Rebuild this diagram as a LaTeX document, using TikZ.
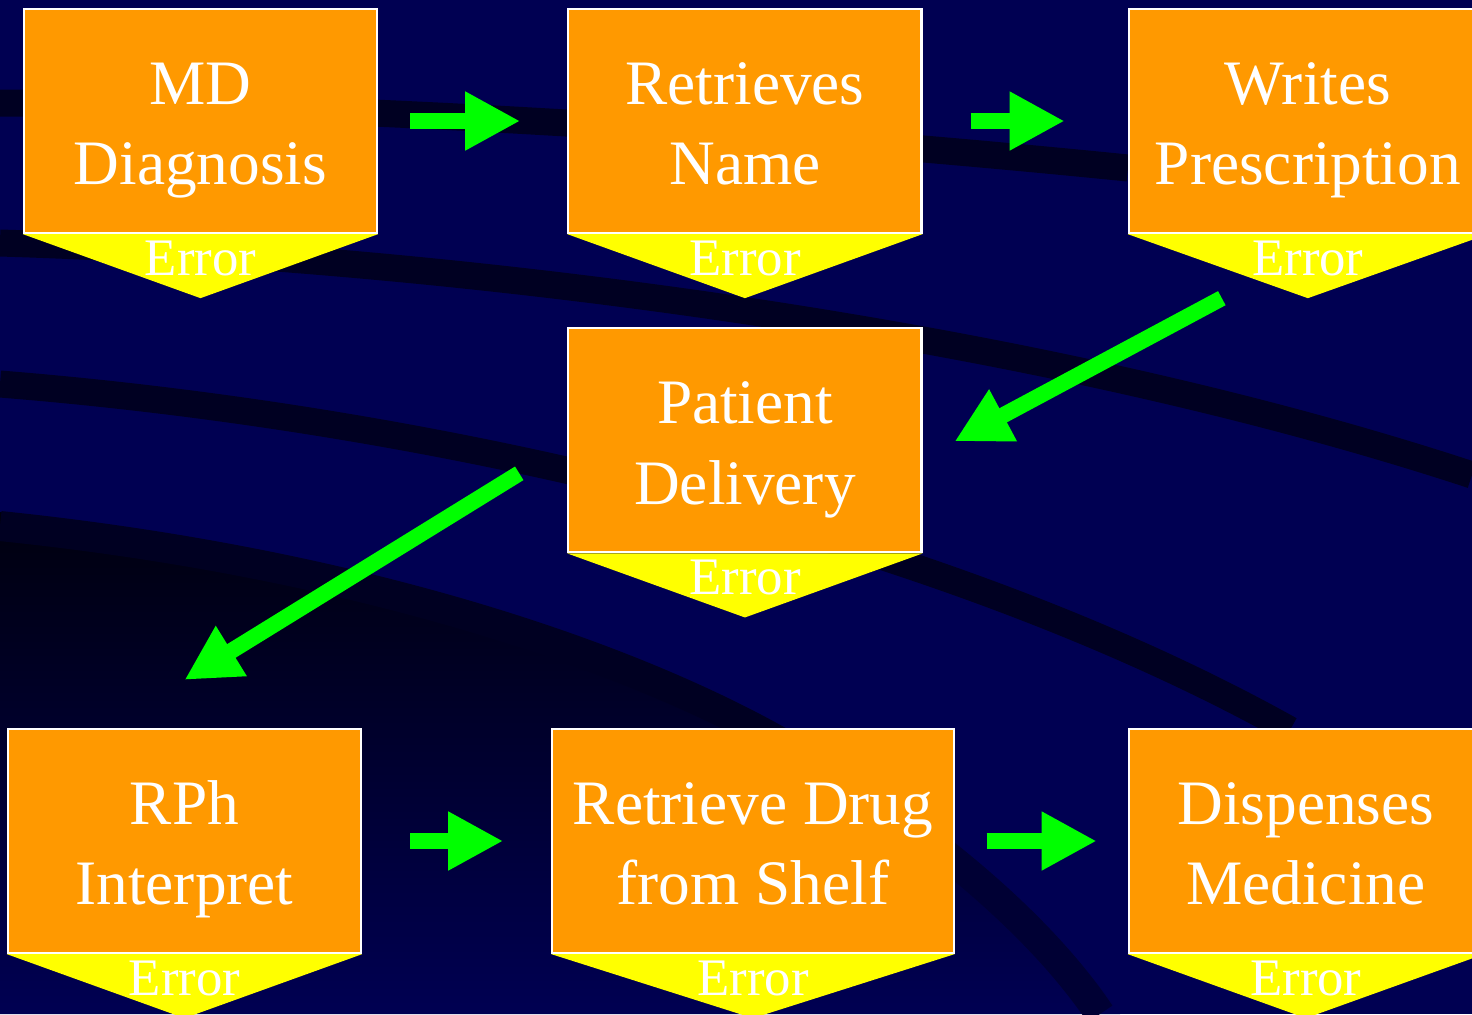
\documentclass[tikz,border=0pt]{standalone}
\usepackage{fontspec}
\setmainfont{Liberation Serif}
\usetikzlibrary{arrows.meta,positioning,calc}

\definecolor{navy}{RGB}{0,0,82}
\definecolor{bgband}{RGB}{0,0,34}
\definecolor{bgstripe}{RGB}{0,0,52}
\definecolor{bgdeep}{RGB}{0,0,14}
\definecolor{boxorange}{RGB}{255,153,0}
\definecolor{erryellow}{RGB}{255,255,0}
\definecolor{flowgreen}{RGB}{0,255,0}

\tikzset{
  stepbox/.style  = {draw=white, line width=0.6pt, fill=boxorange, text=white,
                     minimum width=3.53cm, minimum height=2.24cm, inner sep=0pt,
                     align=center, font=\fontsize{18}{21.9}\selectfont},
  errlabel/.style = {anchor=base, text=white, inner sep=0pt,
                     font=\fontsize{15}{18}\selectfont},
  flow/.style     = {draw=flowgreen, line width=0.16cm,
                     -{Triangle[length=0.55cm, width=0.55cm]}},
  band/.style     = {draw=bgband, line width=0.27cm},
}
\newcommand{\lstrut}{\rule[-0.15cm]{0pt}{0.77cm}}
\newcommand{\twoline}[2]{\lstrut#1\\\lstrut#2}

\begin{document}
\begin{tikzpicture}[x=0.01cm, y=-0.01cm]
\useasboundingbox (0,0) rectangle (1472,1014);

% ---- background with swooshes
\fill[navy] (0,0) rectangle (1472,1014);
\shade[top color=bgdeep, bottom color=navy]
  (0,512) .. controls (350,550) and (620,640) .. (780,730)
  .. controls (900,800) and (1040,900) .. (1120,1014) -- (0,1014) -- cycle;
\draw[band, line width=0.3cm] (0,526) .. controls (350,562) and (620,652) .. (780,742);
\draw[band, draw=bgstripe, line width=0.3cm] (780,742)
  .. controls (900,812) and (1030,910) .. (1100,1014);
\draw[band] (0,103) .. controls (300,105) and (700,125) .. (1128,168);
\draw[band] (0,243) .. controls (400,255) and (1000,320) .. (1472,475);
\draw[band] (0,384) .. controls (450,420) and (950,540) .. (1290,730);

% ---- top row
\node[stepbox] (md) at (200.5,121) {\twoline{MD}{Diagnosis}};
\node[stepbox, right=1.89cm of md] (name) {\twoline{Retrieves}{Name}};
\node[stepbox, right=2.05cm of name, minimum width=3.58cm] (rx)
  {\twoline{Writes}{Prescription}};

% ---- middle
\node[stepbox, below=0.93cm of name] (deliv) {\twoline{Patient}{Delivery}};

% ---- bottom row
\node[stepbox] (rph) at (184.5,841) {\twoline{RPh}{Interpret}};
\node[stepbox, right=1.89cm of rph, minimum width=4.01cm] (drug)
  {\twoline{Retrieve Drug}{from Shelf}};
\node[stepbox, right=1.73cm of drug, minimum width=3.54cm] (disp)
  {\twoline{Dispenses}{Medicine}};

% error tags under every step
\foreach \n in {md,name,rx,deliv,rph,drug,disp} {
  \fill[erryellow] (\n.south west) -- (\n.south east)
    -- ([yshift=-0.64cm]\n.south) -- cycle;
  \node[errlabel] (\n err) at ([yshift=-0.41cm]\n.south) {Error};
}

% ---- flow arrows
\draw[flow, shorten <=0.32cm, shorten >=0.47cm] (md.east) -- (name.west);
\draw[flow, shorten <=0.48cm, shorten >=0.63cm] (name.east) -- (rx.west);

\coordinate (rx tail) at ([xshift=-0.86cm, yshift=-0.64cm]rx.south);
\coordinate (deliv head) at ([xshift=0.32cm, yshift=-0.01cm]deliv.east);
\draw[flow] (rx tail) -- (deliv head);

\coordinate (deliv tail) at ([xshift=-0.48cm, yshift=-0.33cm]deliv.west);
\coordinate (rph head) at ([yshift=0.48cm]rph.north);
\draw[flow] (deliv tail) -- (rph head);

\draw[flow, shorten <=0.48cm, shorten >=0.48cm] (rph.east) -- (drug.west);
\draw[flow, shorten <=0.32cm, shorten >=0.31cm] (drug.east) -- (disp.west);

\end{tikzpicture}
\end{document}
